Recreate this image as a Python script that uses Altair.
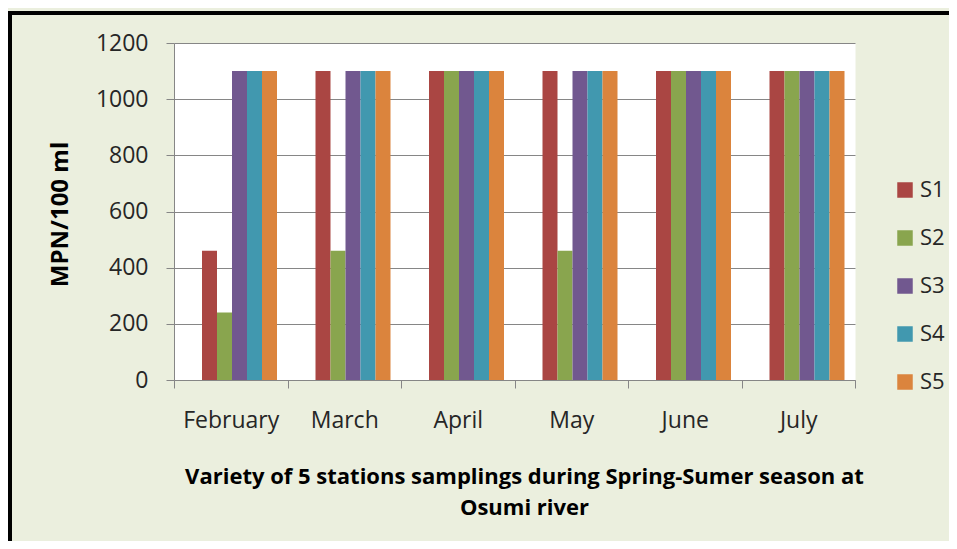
import altair as alt
import pandas as pd

months = ["February", "March", "April", "May", "June", "July"]
stations = ["S1", "S2", "S3", "S4", "S5"]
S1 = [460, 1100, 1100, 1100, 1100, 1100]
S2 = [240, 460, 1100, 460, 1100, 1100]
S3 = [1100, 1100, 1100, 1100, 1100, 1100]
S4 = [1100, 1100, 1100, 1100, 1100, 1100]
S5 = [1100, 1100, 1100, 1100, 1100, 1100]
y_ticks = [0, 200, 400, 600, 800, 1000, 1200]
colors = ["#AA4643", "#89A54E", "#71588F", "#4198AF", "#DB843D"]

x_title = ["Variety of 5 stations  samplings during Spring-Sumer season at", "Osumi river"]
y_title = "MPN/100 ml"

rows = []
for name, vals in zip(stations, [S1, S2, S3, S4, S5]):
    for m, v in zip(months, vals):
        rows.append({"month": m, "station": name, "value": v})
df = pd.DataFrame(rows)

FONT = "Open Sans"
W, H = 681, 337
PAD_L, PAD_T = 166, 35
TOTAL_W, TOTAL_H = 941, 533

bars = alt.Chart(df).mark_bar().encode(
    x=alt.X(
        "month:N",
        sort=months,
        scale=alt.Scale(paddingInner=0, paddingOuter=0),
        axis=alt.Axis(
            title=x_title,
            labelAngle=0,
            tickBand="extent",
            tickSize=8,
            tickColor="#868686",
            domainColor="#868686",
            labelFont=FONT,
            labelFontSize=23,
            labelColor="#262626",
            labelPadding=21,
            titleFont=FONT,
            titleFontSize=22,
            titleFontWeight="bold",
            titleColor="black",
            titleX=350,
            titleY=103,
            titleAlign="center",
            titleBaseline="alphabetic",
            titleLineHeight=31,
            grid=False,
        ),
    ),
    xOffset=alt.XOffset(
        "station:N",
        sort=stations,
        scale=alt.Scale(paddingInner=0, paddingOuter=0, range=[28, 103]),
    ),
    y=alt.Y(
        "value:Q",
        scale=alt.Scale(domain=[0, 1200], nice=False),
        axis=alt.Axis(
            values=y_ticks,
            format="d",
            title=y_title,
            tickSize=8,
            tickColor="#868686",
            domainColor="#868686",
            gridColor="#868686",
            labelFont=FONT,
            labelFontSize=23,
            labelColor="#262626",
            labelPadding=18,
            titleFont=FONT,
            titleFontSize=24,
            titleFontWeight="bold",
            titleColor="black",
            titleX=-114,
            titleY=171,
            titleAlign="center",
            titleBaseline="middle",
            titleAngle=-90,
        ),
    ),
    color=alt.Color(
        "station:N",
        sort=stations,
        scale=alt.Scale(domain=stations, range=colors),
        legend=alt.Legend(
            title=None,
            orient="none",
            legendX=720,
            legendY=136,
            symbolType="square",
            symbolSize=240,
            symbolStrokeWidth=0,
            labelFont=FONT,
            labelFontSize=22,
            labelColor="#262626",
            labelOffset=4,
            rowPadding=26,
            padding=0,
        ),
    ),
)

frame_src = alt.Data(values=[{"k": 1}])
top_rule = alt.Chart(frame_src).mark_rule(color="black", strokeWidth=4).encode(
    x=alt.value(-PAD_L), x2=alt.value(TOTAL_W - PAD_L), y=alt.value(-30)
)
left_rule = alt.Chart(frame_src).mark_rule(color="black", strokeWidth=6).encode(
    x=alt.value(-PAD_L + 1), y=alt.value(-32), y2=alt.value(TOTAL_H - PAD_T)
)

chart = (
    alt.layer(bars, top_rule, left_rule)
    .properties(
        width=W,
        height=H,
        autosize=alt.AutoSizeParams(type="none"),
        padding={"left": PAD_L, "top": PAD_T, "right": TOTAL_W - PAD_L - W, "bottom": TOTAL_H - PAD_T - H},
    )
    .configure(background="#EBEFDE")
    .configure_view(fill="white", stroke="transparent")
)

chart.save("out.html", embed_options={"renderer": "svg", "actions": False})
